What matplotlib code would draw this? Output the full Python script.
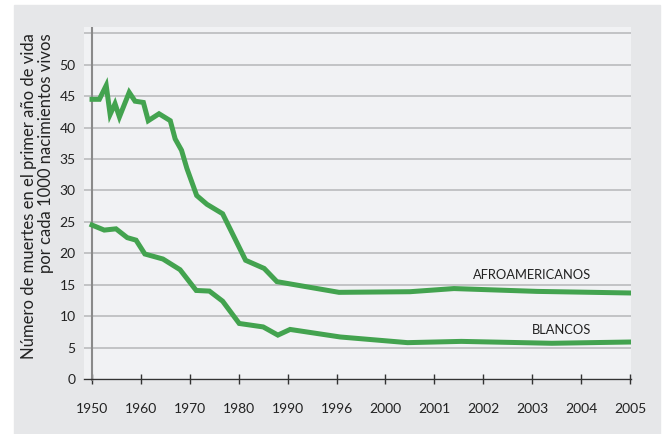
import matplotlib.pyplot as plt
import numpy as np
from matplotlib.patches import Rectangle

plt.rcParams['font.family'] = ['Lato', 'DejaVu Sans']

# eje x no lineal: cada año rotulado ocupa el mismo espacio
tick_years = [1950, 1960, 1970, 1980, 1990, 1996, 2000, 2001, 2002, 2003, 2004, 2005]

afro_years = [1950, 1951.5, 1952.9, 1953.7, 1954.7, 1955.6, 1957.6, 1958.8, 1960.5,
              1961.5, 1963.7, 1966, 1967, 1968.3, 1969.4, 1971.4, 1973.5, 1976.7,
              1981.4, 1985.2, 1987.8, 1996.2, 2000.5, 2001.4, 2003.1, 2005]
afro_vals = [44.5, 44.5, 46.7, 42.1, 43.8, 41.7, 45.6, 44.2, 44.0,
             41.1, 42.2, 41.1, 38.2, 36.4, 33.5, 29.2, 27.8, 26.3,
             18.9, 17.6, 15.5, 13.8, 13.9, 14.4, 13.95, 13.7]

blanco_years = [1950, 1952.5, 1954.9, 1957.2, 1959, 1960.8, 1964.5, 1968, 1971.3,
                1974, 1976.7, 1980.1, 1985, 1988, 1990.3, 1996.3, 2000.45, 2001.55,
                2003.4, 2005]
blanco_vals = [24.5, 23.7, 23.9, 22.5, 22.1, 19.9, 19.1, 17.4, 14.1,
               14.0, 12.4, 8.85, 8.3, 7.0, 7.9, 6.7, 5.8, 6.0,
               5.7, 5.9]

GREEN = '#43a34f'
BG = '#e6e7e9'
PANEL = '#f1f2f4'


def pos(years):
    return np.interp(years, tick_years, np.arange(len(tick_years)))


fig = plt.figure(figsize=(6.63, 4.34), dpi=100)
fig.patches.append(Rectangle((14 / 663, 0), 646 / 663, 429 / 434,
                             transform=fig.transFigure, color=BG, zorder=-1))

ax = fig.add_axes([84 / 663, 53 / 434, 547 / 663, 354 / 434])
ax.set_zorder(1)
ax.set_facecolor(PANEL)
ax.set_xlim(-0.164, 11.02)
ax.set_ylim(-0.3, 56)

for v in range(5, 60, 5):
    ax.axhline(v, color='#c2c3c5', lw=1.4, zorder=1)
ax.axvline(0, color='#8a8a8a', lw=1.5, zorder=2)

ax.plot(pos(afro_years), afro_vals, color=GREEN, lw=3.6, zorder=3, solid_joinstyle='miter')
ax.plot(pos(blanco_years), blanco_vals, color=GREEN, lw=3.6, zorder=3, solid_joinstyle='miter')

ax.text(10.2, 16.5, 'AFROAMERICANOS', ha='right', va='center', fontsize=9.3, color='#222222')
ax.text(10.2, 7.8, 'BLANCOS', ha='right', va='center', fontsize=9.3, color='#222222')

for s in ['top', 'right', 'left']:
    ax.spines[s].set_visible(False)
ax.spines['bottom'].set_position(('data', 0))
ax.spines['bottom'].set_color('#333333')
ax.spines['bottom'].set_linewidth(1.0)

ax.set_xticks(np.arange(len(tick_years)))
ax.set_xticklabels([str(y) for y in tick_years])
ax.tick_params(axis='x', direction='inout', length=7, width=1, color='#333333',
               labelsize=10, pad=14, labelcolor='#222222')
ax.set_yticks(range(0, 55, 5))
ax.tick_params(axis='y', length=0, pad=6, labelsize=10, labelcolor='#222222')

fig.text(37.5 / 663, 1 - 33 / 434,
         'Número de muertes en el primer año de vida\npor cada 1000 nacimientos vivos',
         rotation=90, ha='center', va='top', multialignment='right',
         fontsize=12, color='#222222', linespacing=1.05)

fig.savefig('out.png', dpi=100)
